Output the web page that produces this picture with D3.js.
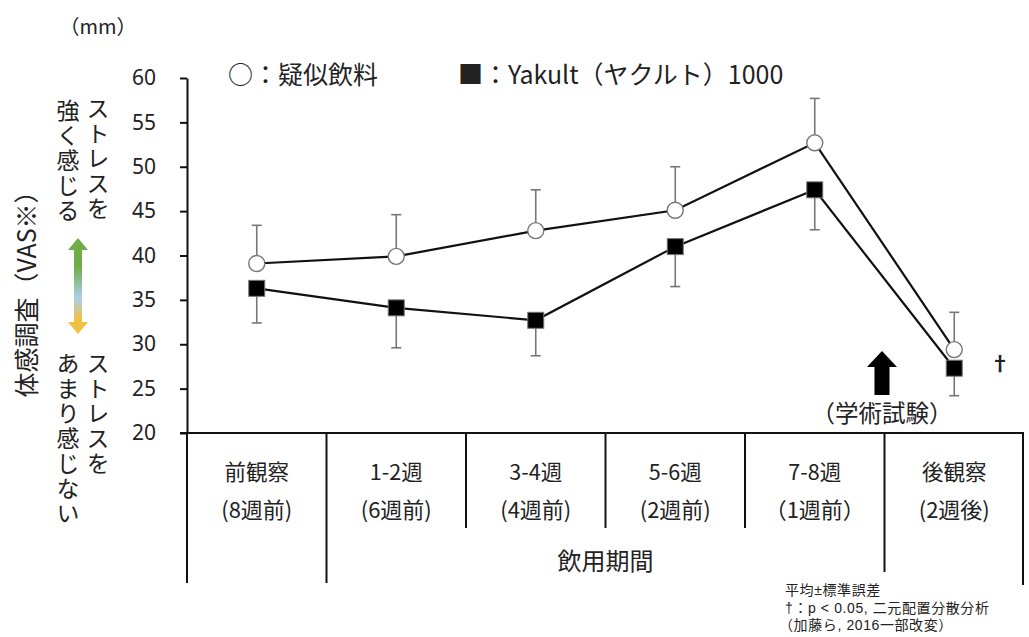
<!DOCTYPE html>
<meta charset="utf-8">
<html>
<head>
    <script src="https://d3js.org/d3.v7.js"></script>
    <style>
        body { margin: 0; background: white; }
        text { font-family: "Noto Sans CJK JP", "Noto Sans", sans-serif; fill: #222; }
    </style>
</head>
<body>
    <script>

        // categories and labels
        const categories = ["前観察", "1-2週", "3-4週", "5-6週", "7-8週", "後観察"];
        const subLabels = ["(8週前)", "(6週前)", "(4週前)", "(2週前)", "（1週前）", "(2週後)"];
        const yTicks = [20, 25, 30, 35, 40, 45, 50, 55, 60];

        // series values (mean, SE)
        const placebo = [39.1, 39.9, 42.8, 45.1, 52.7, 29.4];
        const placeboSE = [4.3, 4.7, 4.6, 4.9, 5.0, 4.2];
        const yakult = [36.3, 34.1, 32.7, 41.0, 47.4, 27.3];
        const yakultSE = [3.9, 4.5, 4.0, 4.5, 4.5, 3.1];

        const width = 1029;
        const height = 637;

        const svg = d3.select('body')
            .append('svg')
            .attr('width', width)
            .attr('height', height);

        const x = d3.scaleBand()
            .domain(categories)
            .range([187, 1024])
            .padding(0);

        const y = d3.scaleLinear()
            .domain([20, 60])
            .range([433, 78]);

        const cx = d => x(d) + x.bandwidth() / 2;

        // y axis
        const yAxis = svg.append('g')
            .attr('transform', 'translate(187,0)')
            .call(d3.axisLeft(y).tickValues(yTicks).tickSize(7).tickSizeOuter(0).tickPadding(24));
        yAxis.select('.domain').attr('stroke', '#111').attr('stroke-width', 2);
        yAxis.selectAll('.tick line').attr('stroke', '#111').attr('stroke-width', 2);
        yAxis.selectAll('.tick text')
            .style('font-size', '21px')
            .style('font-family', '"Noto Sans", sans-serif')
            .attr('fill', '#222');

        // table under the chart
        const table = svg.append('g').attr('stroke', '#111').attr('stroke-width', 2);
        table.append('line')
            .attr('x1', 180).attr('x2', 1024)
            .attr('y1', y(20)).attr('y2', y(20));

        const bottoms = [583, 583, 528, 528, 528, 572];
        table.selectAll('line.col')
            .data(categories)
            .enter()
            .append('line')
            .attr('class', 'col')
            .attr('x1', d => x(d)).attr('x2', d => x(d))
            .attr('y1', y(20)).attr('y2', (d, i) => bottoms[i]);
        table.append('line')
            .attr('x1', x.range()[1] - 1).attr('x2', x.range()[1] - 1)
            .attr('y1', y(20)).attr('y2', 585);

        svg.selectAll('text.cat')
            .data(categories)
            .enter()
            .append('text')
            .attr('class', 'cat')
            .attr('x', d => cx(d))
            .attr('y', 472)
            .attr('dy', '0.35em')
            .attr('text-anchor', 'middle')
            .style('font-size', '21.5px')
            .text(d => d);

        svg.selectAll('text.sub')
            .data(subLabels)
            .enter()
            .append('text')
            .attr('class', 'sub')
            .attr('x', (d, i) => cx(categories[i]))
            .attr('y', 510)
            .attr('dy', '0.35em')
            .attr('text-anchor', 'middle')
            .style('font-size', '22px')
            .text(d => d);

        svg.append('text')
            .attr('x', (cx(categories[1]) + cx(categories[4])) / 2)
            .attr('y', 562)
            .attr('dy', '0.35em')
            .attr('text-anchor', 'middle')
            .style('font-size', '24px')
            .text('飲用期間');

        // error bars
        function errBars(vals, se, dir, cls) {
            const g = svg.append('g').attr('stroke', '#777').attr('stroke-width', 1.6);
            g.selectAll('line.' + cls + 'v')
                .data(vals)
                .enter()
                .append('line')
                .attr('x1', (d, i) => cx(categories[i]))
                .attr('x2', (d, i) => cx(categories[i]))
                .attr('y1', d => y(d))
                .attr('y2', (d, i) => y(d + dir * se[i]));
            g.selectAll('line.' + cls + 'c')
                .data(vals)
                .enter()
                .append('line')
                .attr('x1', (d, i) => cx(categories[i]) - 5)
                .attr('x2', (d, i) => cx(categories[i]) + 5)
                .attr('y1', (d, i) => y(d + dir * se[i]))
                .attr('y2', (d, i) => y(d + dir * se[i]));
        }
        errBars(placebo, placeboSE, 1, 'p');
        errBars(yakult, yakultSE, -1, 'y');

        // lines
        const line = d3.line()
            .x((d, i) => cx(categories[i]))
            .y(d => y(d));

        svg.append('path')
            .datum(yakult)
            .attr('d', line)
            .attr('fill', 'none')
            .attr('stroke', '#111')
            .attr('stroke-width', 2.2);

        svg.append('path')
            .datum(placebo)
            .attr('d', line)
            .attr('fill', 'none')
            .attr('stroke', '#111')
            .attr('stroke-width', 2.2);

        // markers
        svg.selectAll('rect.yk')
            .data(yakult)
            .enter()
            .append('rect')
            .attr('class', 'yk')
            .attr('x', (d, i) => cx(categories[i]) - 8)
            .attr('y', d => y(d) - 8)
            .attr('width', 16)
            .attr('height', 16)
            .attr('fill', '#000')
            .attr('stroke', '#777')
            .attr('stroke-width', 1);

        svg.selectAll('circle.pl')
            .data(placebo)
            .enter()
            .append('circle')
            .attr('class', 'pl')
            .attr('cx', (d, i) => cx(categories[i]))
            .attr('cy', d => y(d))
            .attr('r', 8)
            .attr('fill', 'white')
            .attr('stroke', '#777')
            .attr('stroke-width', 1.4);

        // legend
        svg.append('text')
            .attr('x', 228).attr('y', 75).attr('dy', '0.35em')
            .style('font-size', '25px')
            .text('○：疑似飲料');
        svg.append('text')
            .attr('x', 458).attr('y', 75).attr('dy', '0.35em')
            .style('font-size', '25px')
            .text('■：Yakult（ヤクルト）1000');

        // unit
        svg.append('text')
            .attr('x', 98).attr('y', 27).attr('dy', '0.35em')
            .attr('text-anchor', 'middle')
            .style('font-size', '20px')
            .text('（mm）');

        // y title
        svg.append('text')
            .attr('transform', 'translate(27,288) rotate(-90)')
            .attr('dy', '0.35em')
            .attr('text-anchor', 'middle')
            .style('font-size', '25px')
            .text('体感調査（VAS※）');

        // vertical side notes
        const sideNotes = [
            { t: 'ストレスを', x: 98, y: 97 },
            { t: '強く感じる', x: 68, y: 99 },
            { t: 'ストレスを', x: 98, y: 352 },
            { t: 'あまり感じない', x: 68, y: 352 }
        ];
        svg.selectAll('text.side')
            .data(sideNotes)
            .enter()
            .append('text')
            .attr('class', 'side')
            .attr('x', d => d.x)
            .attr('y', d => d.y)
            .style('writing-mode', 'vertical-rl')
            .style('font-size', '23px')
            .style('letter-spacing', '2px')
            .text(d => d.t);

        // gradient double arrow
        const defs = svg.append('defs');
        const grad = defs.append('linearGradient')
            .attr('id', 'arrowGrad')
            .attr('x1', 0).attr('x2', 0).attr('y1', 0).attr('y2', 1);
        grad.append('stop').attr('offset', '0%').attr('stop-color', '#70ad47');
        grad.append('stop').attr('offset', '30%').attr('stop-color', '#70ad47');
        grad.append('stop').attr('offset', '62%').attr('stop-color', '#a9cfe8');
        grad.append('stop').attr('offset', '85%').attr('stop-color', '#f2c044');
        grad.append('stop').attr('offset', '100%').attr('stop-color', '#f2c044');

        const ax = 78, aTop = 238, aBot = 334;
        svg.append('path')
            .attr('d', `M${ax},${aTop} L${ax + 10},${aTop + 12} L${ax + 4},${aTop + 12} L${ax + 4},${aBot - 12} L${ax + 10},${aBot - 12} L${ax},${aBot} L${ax - 10},${aBot - 12} L${ax - 4},${aBot - 12} L${ax - 4},${aTop + 12} L${ax - 10},${aTop + 12} Z`)
            .attr('fill', 'url(#arrowGrad)');

        // exam arrow and note
        const ex = 882;
        svg.append('path')
            .attr('d', `M${ex},351 L${ex + 15},367 L${ex + 7.5},367 L${ex + 7.5},395 L${ex - 7.5},395 L${ex - 7.5},367 L${ex - 15},367 Z`)
            .attr('fill', '#000');
        svg.append('text')
            .attr('x', ex).attr('y', 414).attr('dy', '0.35em')
            .attr('text-anchor', 'middle')
            .style('font-size', '23.5px')
            .text('（学術試験）');
        svg.append('text')
            .attr('x', 1000).attr('y', 364).attr('dy', '0.35em')
            .attr('text-anchor', 'middle')
            .style('font-size', '20px')
            .style('font-weight', 'bold')
            .text('†');

        // footnote
        const notes = ['平均±標準誤差', '†：p < 0.05, 二元配置分散分析', '（加藤ら, 2016一部改変）'];
        svg.selectAll('text.note')
            .data(notes)
            .enter()
            .append('text')
            .attr('class', 'note')
            .attr('x', (d, i) => i === 2 ? 779 : 785)
            .attr('y', (d, i) => 595 + i * 17.5)
            .style('font-family', '"Liberation Sans", "Noto Sans CJK JP", sans-serif')
            .style('font-size', '14px')
            .style('letter-spacing', '0.6px')
            .text(d => d);

    </script>
</body>
</html>
